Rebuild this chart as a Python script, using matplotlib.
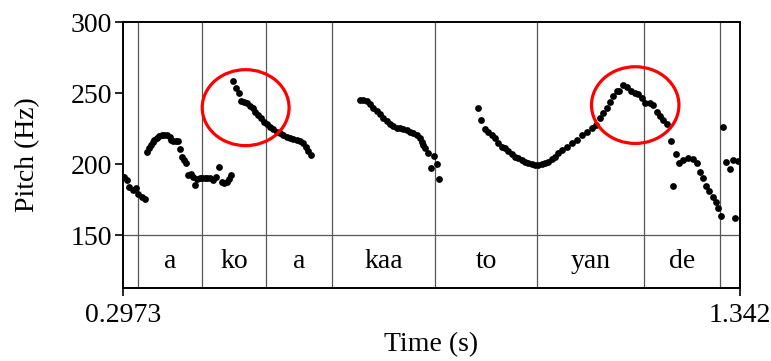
import matplotlib
matplotlib.use("Agg")
import matplotlib.pyplot as plt
from matplotlib.patches import Ellipse

# Pitch track (s, Hz)
times = [
    0.2990, 0.3036, 0.3080, 0.3137, 0.3193, 0.3232, 0.3290, 0.3345,
    0.3385, 0.3418, 0.3447, 0.3476, 0.3503, 0.3543, 0.3582, 0.3628, 0.3672, 0.3723,
    0.3769, 0.3780, 0.3825, 0.3870, 0.3909, 0.3938, 0.3977, 0.4011, 0.4040, 0.4079,
    0.4119, 0.4153, 0.4192, 0.4231, 0.4277, 0.4316, 0.4361, 0.4400, 0.4446, 0.4502,
    0.4548, 0.4593, 0.4644, 0.4683, 0.4729, 0.4768, 0.4801,
    0.4841, 0.4886, 0.4932, 0.4976, 0.5027, 0.5072, 0.5123, 0.5169, 0.5213, 0.5264,
    0.5309, 0.5360, 0.5406, 0.5462, 0.5518, 0.5575, 0.5631, 0.5687, 0.5744, 0.5800,
    0.5856, 0.5914, 0.5970, 0.6025, 0.6071, 0.6110, 0.6151,
    0.6985, 0.7041, 0.7099, 0.7155, 0.7211, 0.7268, 0.7324, 0.7380, 0.7437, 0.7493,
    0.7549, 0.7607, 0.7663, 0.7719, 0.7776, 0.7832, 0.7888, 0.7945, 0.8001, 0.8030,
    0.8057, 0.8086, 0.8142, 0.8238, 0.8284, 0.8187, 0.8328,
    0.8988, 0.9034, 0.9102, 0.9158, 0.9215, 0.9271, 0.9327, 0.9384, 0.9440, 0.9496,
    0.9554, 0.9610, 0.9665, 0.9723, 0.9779, 0.9835, 0.9892, 0.9948, 1.0004, 1.0062,
    1.0118, 1.0173, 1.0231, 1.0287, 1.0343, 1.0400,
    1.0485, 1.0570, 1.0654, 1.0739, 1.0824, 1.0908, 1.0976, 1.1049, 1.1105, 1.1162,
    1.1218, 1.1274, 1.1331, 1.1375, 1.1433, 1.1501, 1.1568, 1.1641, 1.1697, 1.1754,
    1.1811, 1.1895, 1.1951, 1.2009, 1.2065, 1.2120, 1.2178, 1.2246, 1.2335, 1.2391,
    1.2459, 1.2543, 1.2618, 1.2686, 1.2742, 1.2797, 1.2843, 1.2899, 1.2957, 1.3013,
    1.3041, 1.3092, 1.2290, 1.3136, 1.3182, 1.3249, 1.3305, 1.3390, 1.3334,
]
pitch = [
    191.1, 188.7, 183.6, 181.7, 182.9, 178.9, 176.6, 175.1,
    208.2, 211.1, 213.4, 215.3, 216.9, 218.5, 219.5, 220.2, 220.2, 220.6,
    219.2, 216.9, 216.4, 216.4, 216.4, 210.4, 205.1, 202.8, 200.9, 192.3,
    193.0, 191.1, 185.0, 189.2, 189.9, 189.9, 190.4, 189.9, 190.4, 188.7,
    191.1, 198.1, 187.5, 186.8, 187.5, 189.2, 192.3,
    258.5, 253.3, 249.8, 244.6, 243.9, 242.7, 240.8, 239.2, 236.8, 234.5,
    232.2, 229.8, 228.0, 226.3, 224.4, 222.8, 221.6, 220.4, 219.2, 218.1,
    217.4, 216.9, 216.4, 214.6, 212.2, 209.4, 206.1,
    245.1, 245.1, 244.4, 242.0, 239.7, 237.3, 235.0, 232.6, 230.3, 228.2,
    226.8, 225.6, 225.1, 224.4, 223.7, 222.8, 221.6, 220.4, 218.1, 215.7,
    213.4, 211.1, 208.0, 205.9, 200.0, 197.4, 189.4,
    239.7, 231.0, 224.4, 222.8, 220.4, 218.1, 214.6, 212.2, 211.1, 209.2,
    206.8, 205.1, 204.0, 202.8, 201.6, 200.5, 199.8, 199.3, 199.3, 199.8,
    200.5, 201.6, 203.5, 205.1, 207.5, 209.9,
    211.8, 214.6, 216.9, 220.4, 222.8, 225.1, 227.5, 232.2, 235.7, 239.6,
    243.9, 247.9, 251.6, 251.6, 255.6, 254.0, 251.6, 249.8, 249.1, 246.3,
    242.7, 242.7, 241.5, 236.8, 233.8, 231.0, 228.2, 216.2, 206.8, 200.5,
    202.8, 204.0, 203.3, 200.5, 194.6, 189.9, 184.7, 181.0, 176.9, 173.5,
    169.2, 163.4, 184.7, 226.3, 201.6, 196.3, 202.8, 202.3, 161.8,
]

# Syllable tier
boundaries = [0.3227, 0.4311, 0.5394, 0.6512, 0.8256, 0.9988, 1.1799, 1.3086]
syllables = ["a", "ko", "a", "kaa", "to", "yan", "de"]

# Highlighted regions (centre time, centre Hz, width s, height Hz)
circles = [(0.505, 239.7, 0.147, 53.5), (1.1646, 241.5, 0.148, 54.0)]

t_start, t_end = 0.2973, 1.342
f_min, f_max = 112.7, 300
tier_top = 150

plt.rcParams['font.family'] = ['Liberation Serif', 'DejaVu Serif']
fs = 20

fig = plt.figure(figsize=(7.71, 3.61), dpi=100)
ax = fig.add_axes([0.1595, 0.2022, 0.8003, 0.7368])

ax.scatter(times, pitch, s=24, color='black', linewidths=0, zorder=3)

for b in boundaries:
    ax.axvline(b, color='#555555', linewidth=0.9, zorder=1)
ax.axhline(tier_top, color='#555555', linewidth=0.9, zorder=1)

for i, lab in enumerate(syllables):
    xc = (boundaries[i] + boundaries[i + 1]) / 2
    ax.text(xc, (tier_top + f_min) / 2, lab, ha='center', va='center', fontsize=fs)

for cx, cy, w, h in circles:
    ax.add_patch(Ellipse((cx, cy), w, h, fill=False, edgecolor='red', linewidth=2.3, zorder=4))

ax.set_xlim(t_start, t_end)
ax.set_ylim(f_min, f_max)
ax.set_xticks([t_start, t_end])
ax.set_xticklabels(["0.2973", "1.342"])
ax.set_yticks([150, 200, 250, 300])
ax.tick_params(axis='both', labelsize=fs, length=6, width=1.2, direction='out')
ax.tick_params(axis='x', pad=5)
ax.tick_params(axis='y', pad=2)
for sp in ax.spines.values():
    sp.set_linewidth(1.4)

ax.set_xlabel("Time (s)", fontsize=fs, labelpad=3)
ax.set_ylabel("Pitch (Hz)", fontsize=fs, labelpad=22)

fig.savefig("out.png", dpi=100)
